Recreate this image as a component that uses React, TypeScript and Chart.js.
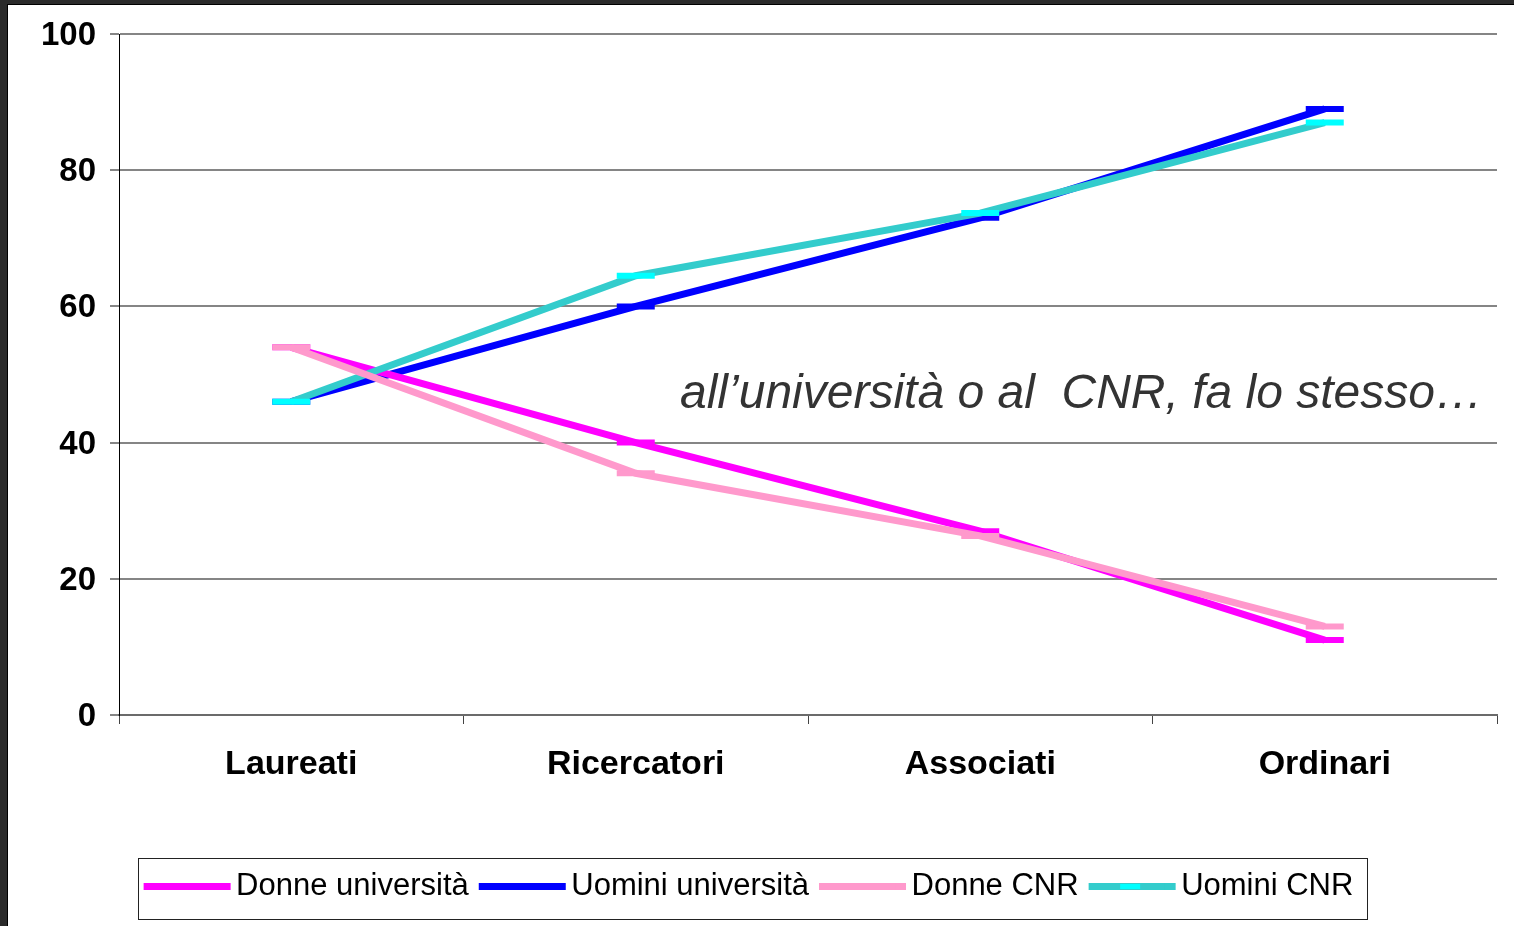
import React, { useEffect, useRef } from "react";
import { Chart, registerables } from "chart.js";

Chart.register(...registerables);

const categories = ["Laureati", "Ricercatori", "Associati", "Ordinari"];
const donneUniversita = [54, 40, 27, 11];
const uominiUniversita = [46, 60, 73, 89];
const donneCNR = [54, 35.5, 26.3, 13];
const uominiCNR = [46, 64.5, 73.7, 87];
const seriesLabels = ["Donne università", "Uomini università", "Donne CNR", "Uomini CNR"];
const seriesColors = ["#ff00ff", "#0000ff", "#ff99cc", "#33cccc"];
const markerColors = ["#ff00ff", "#0000ff", "#ff99cc", "#00ffff"];
const yMin = 0;
const yMax = 100;
const yStep = 20;
const annotationText = "all\u2019università o al  CNR, fa lo stesso\u2026";

const LEGEND_FONT = 31;
const LEGEND_BOX_W = 77;
const LEGEND_BOX_EXT = 10;
const LEGEND_BOX_H = 7;

const decorPlugin = {
  id: "decor",
  afterDatasetsDraw(chart: any) {
    const ctx = chart.ctx;
    ctx.save();
    ctx.font = 'italic 48px "Liberation Sans", Arial, sans-serif';
    ctx.fillStyle = "#333333";
    ctx.textAlign = "left";
    ctx.textBaseline = "alphabetic";
    ctx.fillText(annotationText, 680, 408);
    ctx.restore();
  },
  afterDraw(chart: any) {
    const ctx = chart.ctx;
    const lg = chart.legend;
    const hb = lg && lg.legendHitBoxes;
    if (!hb || !hb.length) return;
    ctx.save();
    const first = hb[0];
    const last = hb[hb.length - 1];
    const left = Math.round(first.left - 6);
    const right = Math.round(last.left + last.width + 14);
    const top = Math.round(first.top - 13);
    const bottom = Math.round(first.top + 48);
    ctx.strokeStyle = "#222";
    ctx.lineWidth = 1;
    ctx.strokeRect(left + 0.5, top + 0.5, right - left, bottom - top);
    // legend samples: lengthen each line sample toward its text
    hb.forEach((b: any, i: number) => {
      const boxTop = b.top + Math.max((LEGEND_FONT - LEGEND_BOX_H) / 2, 0);
      ctx.fillStyle = seriesColors[i];
      ctx.fillRect(b.left + LEGEND_BOX_W - 1, boxTop, LEGEND_BOX_EXT + 1, LEGEND_BOX_H);
    });
    // marker inside the "Uomini CNR" legend sample
    const b = hb[3];
    const cy = b.top + Math.max((LEGEND_FONT - LEGEND_BOX_H) / 2, 0) + LEGEND_BOX_H / 2;
    ctx.fillStyle = markerColors[3];
    ctx.fillRect(b.left + (LEGEND_BOX_W + LEGEND_BOX_EXT) / 2 - 12, cy - 2.5, 20, 5);
    ctx.restore();
  },
};

export default function App() {
  const ref = useRef<HTMLCanvasElement | null>(null);

  useEffect(() => {
    if (!ref.current) return;
    const seriesData = [donneUniversita, uominiUniversita, donneCNR, uominiCNR];
    const chart = new Chart(ref.current, {
      type: "line",
      data: {
        labels: categories,
        datasets: seriesData.map((d, i) => ({
          label: seriesLabels[i],
          data: d,
          borderColor: seriesColors[i],
          backgroundColor: seriesColors[i],
          borderWidth: 7,
          tension: 0,
          fill: false,
          pointStyle: "line",
          pointRadius: 19,
          pointHoverRadius: 19,
          pointBorderWidth: 6,
          pointBorderColor: markerColors[i],
          pointBackgroundColor: markerColors[i],
          order: i >= 2 ? 0 : 1,
        })),
      },
      options: {
        animation: false,
        responsive: false,
        devicePixelRatio: 1,
        events: [],
        layout: { autoPadding: false, padding: { left: 0, right: 17, top: 34, bottom: 14 } },
        plugins: {
          tooltip: { enabled: false },
          title: { display: false },
          legend: {
            display: true,
            position: "bottom",
            align: "center",
            labels: {
              boxWidth: LEGEND_BOX_W,
              boxHeight: LEGEND_BOX_H,
              padding: 10,
              color: "#000",
              font: { family: '"Liberation Sans", Arial, sans-serif', size: LEGEND_FONT },
              generateLabels: (ch: any) =>
                ch.data.datasets.map((ds: any, i: number) => ({
                  text: ds.label,
                  fillStyle: seriesColors[i],
                  strokeStyle: seriesColors[i],
                  lineWidth: 0,
                  hidden: false,
                  datasetIndex: i,
                  fontColor: "#000",
                })),
            },
          },
        },
        scales: {
          x: {
            type: "category",
            offset: true,
            afterFit: (s: any) => {
              s.height = 146;
            },
            grid: {
              offset: true,
              drawOnChartArea: false,
              drawTicks: true,
              tickLength: 9,
              color: "#444",
              lineWidth: 1,
            },
            border: { display: true, color: "#6b6b6b", width: 2 },
            ticks: {
              color: "#000",
              padding: 20,
              maxRotation: 0,
              autoSkip: false,
              font: { family: '"Liberation Sans", Arial, sans-serif', size: 34, weight: "bold" },
            },
          },
          y: {
            min: yMin,
            max: yMax,
            afterFit: (s: any) => {
              s.width = 119;
            },
            ticks: {
              stepSize: yStep,
              color: "#000",
              padding: 14,
              labelOffset: 2,
              font: { family: '"Liberation Sans", Arial, sans-serif', size: 33, weight: "bold" },
            },
            grid: {
              color: "#858585",
              lineWidth: 2,
              tickLength: 9,
              drawTicks: true,
            },
            border: { display: true, color: "#000", width: 1 },
          },
        },
      },
      plugins: [decorPlugin],
    } as any);
    return () => chart.destroy();
  }, []);

  return (
    <div style={{ position: "fixed", left: 0, top: 0, width: 1514, height: 926, background: "#2b2b2b", overflow: "hidden" }}>
      <div
        style={{
          position: "absolute",
          left: 7,
          top: 4,
          right: 0,
          bottom: 0,
          background: "#ffffff",
          borderLeft: "1px solid #000",
          borderTop: "1px solid #000",
        }}
      />
      <canvas ref={ref} width={1514} height={926} style={{ position: "absolute", left: 0, top: 0, width: 1514, height: 926 }} />
    </div>
  );
}
